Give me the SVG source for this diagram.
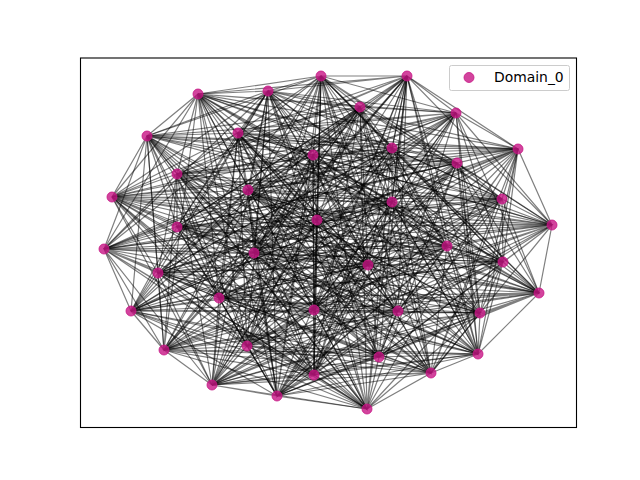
<svg xmlns="http://www.w3.org/2000/svg" width="640" height="480" viewBox="0 0 640 480">
<style>
.e{fill:none;stroke:#000;stroke-opacity:0.5;stroke-width:1.2}
.n{fill:#c71585;fill-opacity:0.8;stroke:#c71585;stroke-opacity:0.8;stroke-width:1}
.t{font-family:"DejaVu Sans",sans-serif;font-size:13.9px;fill:#000}
</style>
<rect x="0" y="0" width="640" height="480" fill="#fff"/>
<g id="connectors">
<path class="e" d="M407 76L321 76 268 91M198 94L321 76 456 113M147 136L321 76 313 155M457 163L321 76 248 190M502 199L321 76 317 220M552 225L321 76 104 249"/>
<path class="e" d="M268 91L407 76 198 94M360 107L407 76 238 133M392 148L407 76 518 149M177 174L407 76 112 197M392 202L407 76 552 225M177 227L407 76 447 246"/>
<path class="e" d="M198 94L268 91 360 107M456 113L268 91 147 136M313 155L268 91 457 163M248 190L268 91 502 199M317 220L268 91 177 227M104 249L268 91 254 253"/>
<path class="e" d="M360 107L198 94 456 113M238 133L198 94 392 148M518 149L198 94 177 174M112 197L198 94 392 202M552 225L198 94 104 249M447 246L198 94 503 262"/>
<path class="e" d="M456 113L360 107 238 133M147 136L360 107 313 155M457 163L360 107 248 190M502 199L360 107 317 220M177 227L360 107 447 246M254 253L360 107 368 265"/>
<path class="e" d="M238 133L456 113 147 136M392 148L456 113 518 149M177 174L456 113 112 197M392 202L456 113 552 225M104 249L456 113 254 253M503 262L456 113 158 273"/>
<path class="e" d="M147 136L238 133 392 148M313 155L238 133 457 163M248 190L238 133 502 199M317 220L238 133 177 227M447 246L238 133 503 262M368 265L238 133 539 293"/>
<path class="e" d="M392 148L147 136 313 155M518 149L147 136 177 174M112 197L147 136 392 202M552 225L147 136 104 249M254 253L147 136 368 265M158 273L147 136 219 298"/>
<path class="e" d="M313 155L392 148 518 149M457 163L392 148 248 190M502 199L392 148 317 220M177 227L392 148 447 246M503 262L392 148 158 273M539 293L392 148 131 311"/>
<path class="e" d="M518 149L313 155 457 163M177 174L313 155 112 197M392 202L313 155 552 225M104 249L313 155 254 253M368 265L313 155 539 293M219 298L313 155 314 310"/>
<path class="e" d="M457 163L518 149 177 174M248 190L518 149 502 199M317 220L518 149 177 227M447 246L518 149 503 262M158 273L518 149 219 298M131 311L518 149 398 311"/>
<path class="e" d="M177 174L457 163 248 190M112 197L457 163 392 202M552 225L457 163 104 249M254 253L457 163 368 265M539 293L457 163 131 311M314 310L457 163 480 313"/>
<path class="e" d="M248 190L177 174 112 197M502 199L177 174 317 220M177 227L177 174 447 246M503 262L177 174 158 273M219 298L177 174 314 310M398 311L177 174 247 346"/>
<path class="e" d="M112 197L248 190 502 199M392 202L248 190 552 225M104 249L248 190 254 253M368 265L248 190 539 293M131 311L248 190 398 311M480 313L248 190 164 350"/>
<path class="e" d="M502 199L112 197 392 202M317 220L112 197 177 227M447 246L112 197 503 262M158 273L112 197 219 298M314 310L112 197 480 313M247 346L112 197 478 354"/>
<path class="e" d="M392 202L502 199 317 220M552 225L502 199 104 249M254 253L502 199 368 265M539 293L502 199 131 311M398 311L502 199 247 346M164 350L502 199 379 357"/>
<path class="e" d="M317 220L392 202 552 225M177 227L392 202 447 246M503 262L392 202 158 273M219 298L392 202 314 310M480 313L392 202 164 350M478 354L392 202 431 373"/>
<path class="e" d="M552 225L317 220 177 227M104 249L317 220 254 253M368 265L317 220 539 293M131 311L317 220 398 311M247 346L317 220 478 354M379 357L317 220 314 375"/>
<path class="e" d="M177 227L552 225 104 249M447 246L552 225 503 262M158 273L552 225 219 298M314 310L552 225 480 313M164 350L552 225 379 357M431 373L552 225 212 385"/>
<path class="e" d="M104 249L177 227 447 246M254 253L177 227 368 265M539 293L177 227 131 311M398 311L177 227 247 346M478 354L177 227 431 373M314 375L177 227 277 396"/>
<path class="e" d="M447 246L104 249 254 253M503 262L104 249 158 273M219 298L104 249 314 310M480 313L104 249 164 350M379 357L104 249 314 375M212 385L104 249 367 409"/>
<path class="e" d="M254 253L447 246 503 262M368 265L447 246 539 293M131 311L447 246 398 311M247 346L447 246 478 354M431 373L447 246 212 385M277 396L447 246 321 76"/>
<path class="e" d="M503 262L254 253 368 265M158 273L254 253 219 298M314 310L254 253 480 313M164 350L254 253 379 357M314 375L254 253 277 396M367 409L254 253 407 76"/>
<path class="e" d="M368 265L503 262 158 273M539 293L503 262 131 311M398 311L503 262 247 346M478 354L503 262 431 373M212 385L503 262 367 409M321 76L503 262 268 91"/>
<path class="e" d="M158 273L368 265 539 293M219 298L368 265 314 310M480 313L368 265 164 350M379 357L368 265 314 375M277 396L368 265 321 76M407 76L368 265 198 94"/>
<path class="e" d="M539 293L158 273 219 298M131 311L158 273 398 311M247 346L158 273 478 354M431 373L158 273 212 385M367 409L158 273 407 76M268 91L158 273 360 107"/>
<path class="e" d="M219 298L539 293 131 311M314 310L539 293 480 313M164 350L539 293 379 357M314 375L539 293 277 396M321 76L539 293 268 91M198 94L539 293 456 113"/>
<path class="e" d="M131 311L219 298 314 310M398 311L219 298 247 346M478 354L219 298 431 373M212 385L219 298 367 409M407 76L219 298 198 94M360 107L219 298 238 133"/>
<path class="e" d="M314 310L131 311 398 311M480 313L131 311 164 350M379 357L131 311 314 375M277 396L131 311 321 76M268 91L131 311 360 107M456 113L131 311 147 136"/>
<path class="e" d="M398 311L314 310 480 313M247 346L314 310 478 354M431 373L314 310 212 385M367 409L314 310 407 76M198 94L314 310 456 113M238 133L314 310 392 148"/>
<path class="e" d="M480 313L398 311 247 346M164 350L398 311 379 357M314 375L398 311 277 396M321 76L398 311 268 91M360 107L398 311 238 133M147 136L398 311 313 155"/>
<path class="e" d="M247 346L480 313 164 350M478 354L480 313 431 373M212 385L480 313 367 409M407 76L480 313 198 94M456 113L480 313 147 136M392 148L480 313 518 149"/>
<path class="e" d="M164 350L247 346 478 354M379 357L247 346 314 375M277 396L247 346 321 76M268 91L247 346 360 107M238 133L247 346 392 148M313 155L247 346 457 163"/>
<path class="e" d="M478 354L164 350 379 357M431 373L164 350 212 385M367 409L164 350 407 76M198 94L164 350 456 113M147 136L164 350 313 155M518 149L164 350 177 174"/>
<path class="e" d="M379 357L478 354 431 373M314 375L478 354 277 396M321 76L478 354 268 91M360 107L478 354 238 133M392 148L478 354 518 149M457 163L478 354 248 190"/>
<path class="e" d="M431 373L379 357 314 375M212 385L379 357 367 409M407 76L379 357 198 94M456 113L379 357 147 136M313 155L379 357 457 163M177 174L379 357 112 197"/>
<path class="e" d="M314 375L431 373 212 385M277 396L431 373 321 76M268 91L431 373 360 107M238 133L431 373 392 148M518 149L431 373 177 174M248 190L431 373 502 199"/>
<path class="e" d="M212 385L314 375 277 396M367 409L314 375 407 76M198 94L314 375 456 113M147 136L314 375 313 155M457 163L314 375 248 190M112 197L314 375 392 202"/>
<path class="e" d="M277 396L212 385 367 409M321 76L212 385 268 91M360 107L212 385 238 133M392 148L212 385 518 149M177 174L212 385 112 197M502 199L212 385 317 220"/>
<path class="e" d="M367 409L277 396 321 76M407 76L277 396 198 94M456 113L277 396 147 136M313 155L277 396 457 163M248 190L277 396 502 199M392 202L277 396 552 225"/>
<path class="e" d="M321 76L367 409 407 76M268 91L367 409 360 107M238 133L367 409 392 148M518 149L367 409 177 174M112 197L367 409 392 202M317 220L367 409 177 227"/>
<path class="e" d="M360 107L321 76 392 148M177 174L321 76"/>
<path class="e" d="M456 113L407 76 313 155M248 190L407 76"/>
<path class="e" d="M238 133L268 91 518 149M112 197L268 91"/>
<path class="e" d="M147 136L198 94 457 163M502 199L198 94"/>
<path class="e" d="M392 148L360 107 177 174M392 202L360 107"/>
<path class="e" d="M313 155L456 113 248 190M317 220L456 113"/>
<path class="e" d="M518 149L238 133 112 197M552 225L238 133"/>
<path class="e" d="M457 163L147 136 502 199M177 227L147 136"/>
<path class="e" d="M177 174L392 148 392 202M104 249L392 148"/>
<path class="e" d="M248 190L313 155 317 220M447 246L313 155"/>
<path class="e" d="M112 197L518 149 552 225M254 253L518 149"/>
<path class="e" d="M502 199L457 163 177 227M503 262L457 163"/>
<path class="e" d="M392 202L177 174 104 249M368 265L177 174"/>
<path class="e" d="M317 220L248 190 447 246M158 273L248 190"/>
<path class="e" d="M552 225L112 197 254 253M539 293L112 197"/>
<path class="e" d="M177 227L502 199 503 262M219 298L502 199"/>
<path class="e" d="M104 249L392 202 368 265M131 311L392 202"/>
<path class="e" d="M447 246L317 220 158 273M314 310L317 220"/>
<path class="e" d="M254 253L552 225 539 293M398 311L552 225"/>
<path class="e" d="M503 262L177 227 219 298M480 313L177 227"/>
<path class="e" d="M368 265L104 249 131 311M247 346L104 249"/>
<path class="e" d="M158 273L447 246 314 310M164 350L447 246"/>
<path class="e" d="M539 293L254 253 398 311M478 354L254 253"/>
<path class="e" d="M219 298L503 262 480 313M379 357L503 262"/>
<path class="e" d="M131 311L368 265 247 346M431 373L368 265"/>
<path class="e" d="M314 310L158 273 164 350M314 375L158 273"/>
<path class="e" d="M398 311L539 293 478 354M212 385L539 293"/>
<path class="e" d="M480 313L219 298 379 357M277 396L219 298"/>
<path class="e" d="M247 346L131 311 431 373M367 409L131 311"/>
<path class="e" d="M164 350L314 310 314 375M321 76L314 310"/>
<path class="e" d="M478 354L398 311 212 385M407 76L398 311"/>
<path class="e" d="M379 357L480 313 277 396M268 91L480 313"/>
<path class="e" d="M431 373L247 346 367 409M198 94L247 346"/>
<path class="e" d="M314 375L164 350 321 76M360 107L164 350"/>
<path class="e" d="M212 385L478 354 407 76M456 113L478 354"/>
<path class="e" d="M277 396L379 357 268 91M238 133L379 357"/>
<path class="e" d="M367 409L431 373 198 94M147 136L431 373"/>
<path class="e" d="M321 76L314 375 360 107M392 148L314 375"/>
<path class="e" d="M407 76L212 385 456 113M313 155L212 385"/>
<path class="e" d="M268 91L277 396 238 133M518 149L277 396"/>
<path class="e" d="M198 94L367 409 147 136M457 163L367 409"/>
</g>
<g id="nodes">
<g id="n0"><circle class="n" cx="321" cy="76" r="5"/></g>
<g id="n1"><circle class="n" cx="407" cy="76" r="5"/></g>
<g id="n2"><circle class="n" cx="268" cy="91" r="5"/></g>
<g id="n3"><circle class="n" cx="198" cy="94" r="5"/></g>
<g id="n4"><circle class="n" cx="360" cy="107" r="5"/></g>
<g id="n5"><circle class="n" cx="456" cy="113" r="5"/></g>
<g id="n6"><circle class="n" cx="238" cy="133" r="5"/></g>
<g id="n7"><circle class="n" cx="147" cy="136" r="5"/></g>
<g id="n8"><circle class="n" cx="392" cy="148" r="5"/></g>
<g id="n9"><circle class="n" cx="313" cy="155" r="5"/></g>
<g id="n10"><circle class="n" cx="518" cy="149" r="5"/></g>
<g id="n11"><circle class="n" cx="457" cy="163" r="5"/></g>
<g id="n12"><circle class="n" cx="177" cy="174" r="5"/></g>
<g id="n13"><circle class="n" cx="248" cy="190" r="5"/></g>
<g id="n14"><circle class="n" cx="112" cy="197" r="5"/></g>
<g id="n15"><circle class="n" cx="502" cy="199" r="5"/></g>
<g id="n16"><circle class="n" cx="392" cy="202" r="5"/></g>
<g id="n17"><circle class="n" cx="317" cy="220" r="5"/></g>
<g id="n18"><circle class="n" cx="552" cy="225" r="5"/></g>
<g id="n19"><circle class="n" cx="177" cy="227" r="5"/></g>
<g id="n20"><circle class="n" cx="104" cy="249" r="5"/></g>
<g id="n21"><circle class="n" cx="447" cy="246" r="5"/></g>
<g id="n22"><circle class="n" cx="254" cy="253" r="5"/></g>
<g id="n23"><circle class="n" cx="503" cy="262" r="5"/></g>
<g id="n24"><circle class="n" cx="368" cy="265" r="5"/></g>
<g id="n25"><circle class="n" cx="158" cy="273" r="5"/></g>
<g id="n26"><circle class="n" cx="539" cy="293" r="5"/></g>
<g id="n27"><circle class="n" cx="219" cy="298" r="5"/></g>
<g id="n28"><circle class="n" cx="131" cy="311" r="5"/></g>
<g id="n29"><circle class="n" cx="314" cy="310" r="5"/></g>
<g id="n30"><circle class="n" cx="398" cy="311" r="5"/></g>
<g id="n31"><circle class="n" cx="480" cy="313" r="5"/></g>
<g id="n32"><circle class="n" cx="247" cy="346" r="5"/></g>
<g id="n33"><circle class="n" cx="164" cy="350" r="5"/></g>
<g id="n34"><circle class="n" cx="478" cy="354" r="5"/></g>
<g id="n35"><circle class="n" cx="379" cy="357" r="5"/></g>
<g id="n36"><circle class="n" cx="431" cy="373" r="5"/></g>
<g id="n37"><circle class="n" cx="314" cy="375" r="5"/></g>
<g id="n38"><circle class="n" cx="212" cy="385" r="5"/></g>
<g id="n39"><circle class="n" cx="277" cy="396" r="5"/></g>
<g id="n40"><circle class="n" cx="367" cy="409" r="5"/></g>
</g>
<rect x="80.5" y="58" width="496" height="369.5" fill="none" stroke="#000" stroke-width="1.1"/>
<g id="legend">
<rect x="449.5" y="65.5" width="120" height="25" rx="2" fill="#fff" fill-opacity="0.8" stroke="#ccc" stroke-width="1"/>
<circle class="n" cx="469" cy="77.5" r="5"/>
<text class="t" x="494" y="82">Domain_0</text>
</g>
</svg>
